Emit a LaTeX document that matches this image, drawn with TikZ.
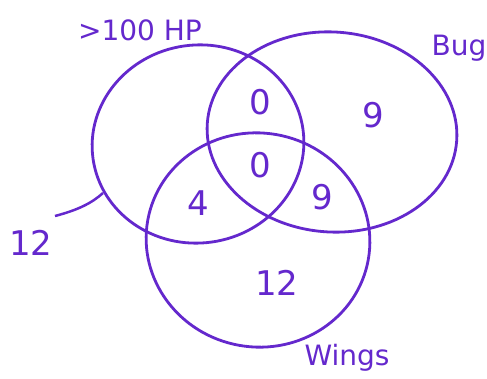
\documentclass[tikz,border=0pt]{standalone}
\usepackage{fontspec}
\setmainfont{DejaVu Sans}
\definecolor{pen}{RGB}{100,40,205}
\begin{document}
\begin{tikzpicture}[x=1pt,y=-1pt,
  ring/.style={draw=pen,line width=2.8pt},
  lbl/.style={text=pen,font=\fontsize{28}{30}\selectfont},
  num/.style={text=pen,font=\fontsize{34}{36}\selectfont}]
\useasboundingbox[fill=white] (0,0) rectangle (487,379);
\draw[ring,rotate around={8:(198,144)}] (198,144) ellipse [x radius=106, y radius=99];
\draw[ring,rotate around={-4:(332,132)}] (332,132) ellipse [x radius=125, y radius=100];
\draw[ring,rotate around={-10:(258,240)}] (258,240) ellipse [x radius=112, y radius=107];
\node[lbl] (hp) at (140,30) {>100 HP};
\node[lbl] (bug) at (459,48) {Bug};
\node[lbl] (wings) at (347,358) {Wings};
\node[num] (out) at (31,243) {12};
\coordinate (touch) at (103,193);
\draw[draw=pen,line width=2.5pt] (55,216) .. controls (78,210) and (92,203) .. (touch);
\node[num] (a) at (260,102) {0};
\node[num] (b) at (373,115) {9};
\node[num] (c) at (260,165) {0};
\node[num] (d) at (198,203) {4};
\node[num] (e) at (322,197) {9};
\node[num] (f) at (277,283) {12};
\end{tikzpicture}
\end{document}
